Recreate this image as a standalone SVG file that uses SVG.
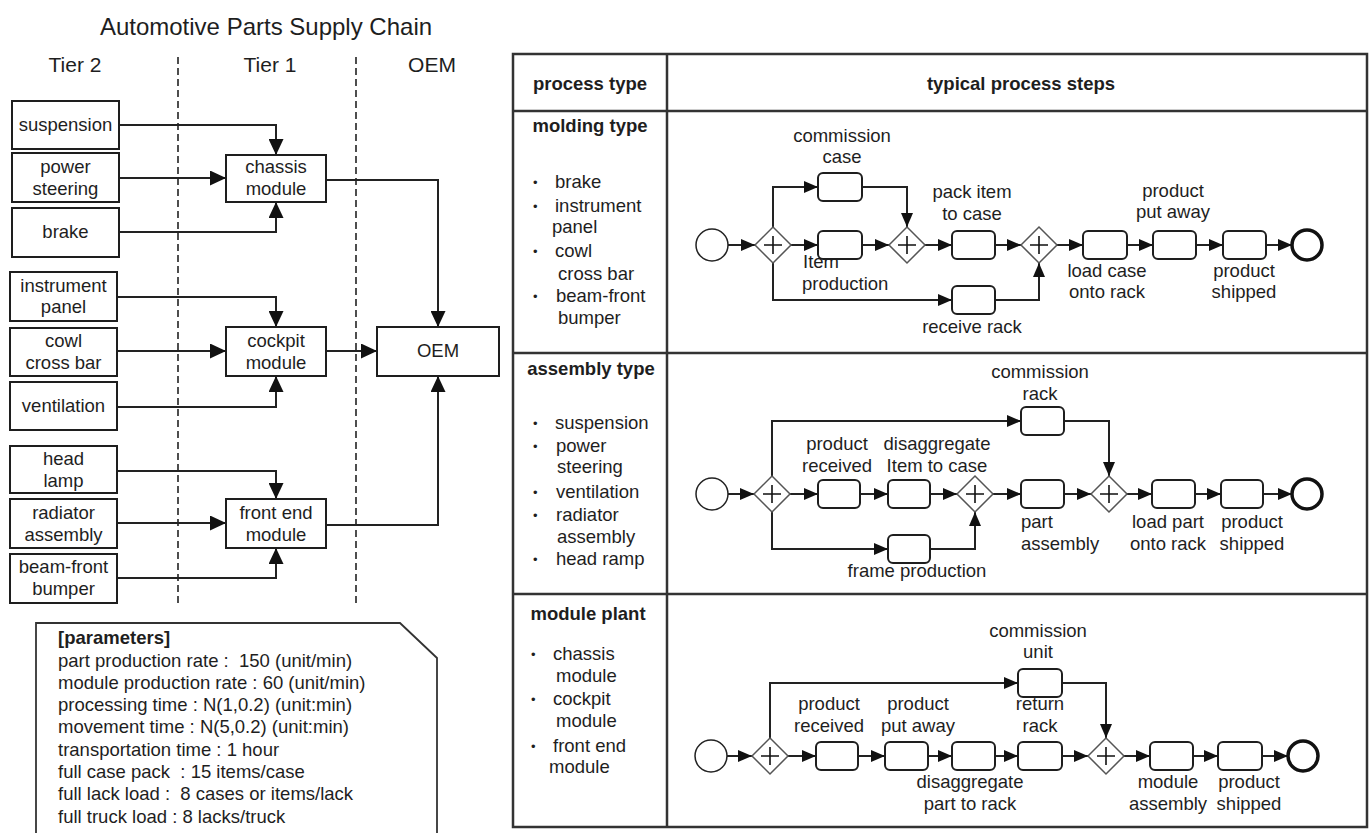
<svg xmlns="http://www.w3.org/2000/svg" width="1369" height="833" viewBox="0 0 1369 833">
<style>
text{font-family:"Liberation Sans",Arial,sans-serif;fill:#1e1e1e;font-size:18.5px}
.c{text-anchor:middle}
.b{font-weight:bold}
.pre{white-space:pre}
.box{fill:#fff;stroke:#1e1e1e;stroke-width:2}
.ln{fill:none;stroke:#222;stroke-width:2}
.lnl{fill:none;stroke:#222;stroke-width:2;marker-end:url(#al)}
.lnp{fill:none;stroke:#222;stroke-width:2;marker-end:url(#ap)}
.dash{stroke:#222;stroke-width:1.6;stroke-dasharray:7 4}
.task{fill:#fff;stroke:#1e1e1e;stroke-width:2}
.gw{fill:#fff;stroke:#555;stroke-width:1.5}
.plus{stroke:#111;stroke-width:1.6}
.st{fill:#fff;stroke:#222;stroke-width:1.5}
.en{fill:#fff;stroke:#111;stroke-width:3.5}
.tb{fill:none;stroke:#333;stroke-width:2.5}
.bul{font-size:13px}
</style>
<defs>
<marker id="al" markerUnits="userSpaceOnUse" markerWidth="16" markerHeight="15" refX="16" refY="7.5" orient="auto"><path d="M0,0 L16,7.5 L0,15 z" fill="#111"/></marker>
<marker id="ap" markerUnits="userSpaceOnUse" markerWidth="14" markerHeight="12" refX="14" refY="6" orient="auto"><path d="M0,0 L14,6 L0,12 z" fill="#111"/></marker>
<g id="gwshape"><path d="M-18,0 L0,-18 L18,0 L0,18 z" class="gw"/><path d="M-9,0 H9 M0,-9 V9" class="plus"/></g>
</defs>
<rect width="1369" height="833" fill="#fff"/>

<!-- Left: supply chain -->
<g id="title">
<text class="c" x="266" y="35" style="font-size:24px">Automotive Parts Supply Chain</text>
<text class="c" x="75" y="72" style="font-size:21px">Tier 2</text>
<text class="c" x="270" y="72" style="font-size:21px">Tier 1</text>
<text class="c" x="432" y="72" style="font-size:21px">OEM</text>
</g>
<g id="tier-dividers">
<line x1="178" y1="57" x2="178" y2="604" class="dash"/>
<line x1="356" y1="57" x2="356" y2="604" class="dash"/>
</g>

<g id="left-connectors">
<path d="M119,125 H276 V155" class="lnl"/>
<path d="M119,178 H226" class="lnl"/>
<path d="M119,232 H276 V202" class="lnl"/>
<path d="M326,180 H438 V327" class="lnl"/>
<path d="M117,297 H276 V327" class="lnl"/>
<path d="M117,351 H226" class="lnl"/>
<path d="M117,407 H276 V376" class="lnl"/>
<path d="M326,351 H377" class="lnl"/>
<path d="M117,471 H276 V499" class="lnl"/>
<path d="M117,523 H226" class="lnl"/>
<path d="M117,578 H276 V548" class="lnl"/>
<path d="M326,525 H438 V376" class="lnl"/>
</g>

<g id="n-suspension"><rect x="12" y="101" width="107" height="48" class="box"/><text class="c" x="65.5" y="131">suspension</text></g>
<g id="n-power-steering"><rect x="12" y="153" width="107" height="49" class="box"/><text class="c" x="65.5" y="173">power</text><text class="c" x="65.5" y="195">steering</text></g>
<g id="n-brake"><rect x="12" y="208" width="107" height="49" class="box"/><text class="c" x="65.5" y="238">brake</text></g>
<g id="n-instrument-panel"><rect x="10" y="272" width="107" height="49" class="box"/><text class="c" x="63.5" y="292">instrument</text><text class="c" x="63.5" y="313">panel</text></g>
<g id="n-cowl"><rect x="10" y="328" width="107" height="48" class="box"/><text class="c" x="63.5" y="347">cowl</text><text class="c" x="63.5" y="369">cross bar</text></g>
<g id="n-ventilation"><rect x="10" y="382" width="107" height="48" class="box"/><text class="c" x="63.5" y="412">ventilation</text></g>
<g id="n-head-lamp"><rect x="10" y="446" width="107" height="47" class="box"/><text class="c" x="63.5" y="465">head</text><text class="c" x="63.5" y="487">lamp</text></g>
<g id="n-radiator"><rect x="10" y="499" width="107" height="49" class="box"/><text class="c" x="63.5" y="519">radiator</text><text class="c" x="63.5" y="541">assembly</text></g>
<g id="n-beam-front"><rect x="10" y="554" width="107" height="49" class="box"/><text class="c" x="63.5" y="573">beam-front</text><text class="c" x="63.5" y="595">bumper</text></g>
<g id="n-chassis"><rect x="226" y="155" width="100" height="47" class="box"/><text class="c" x="276" y="173">chassis</text><text class="c" x="276" y="195">module</text></g>
<g id="n-cockpit"><rect x="226" y="327" width="100" height="49" class="box"/><text class="c" x="276" y="347">cockpit</text><text class="c" x="276" y="369">module</text></g>
<g id="n-front-end"><rect x="226" y="499" width="100" height="49" class="box"/><text class="c" x="276" y="519">front end</text><text class="c" x="276" y="541">module</text></g>
<g id="n-oem"><rect x="377" y="327" width="122" height="49" class="box"/><text class="c" x="438" y="357">OEM</text></g>

<g id="parameters">
<path d="M36,845 V623 H400 L437,658 V845" fill="#fff" stroke="#333" stroke-width="1.8"/>
<text x="58" y="644" class="b">[parameters]</text>
<text x="58" y="667" class="pre">part production rate :  150 (unit/min)</text>
<text x="58" y="689" class="pre">module production rate : 60 (unit/min)</text>
<text x="58" y="711" class="pre">processing time : N(1,0.2) (unit:min)</text>
<text x="58" y="733" class="pre">movement time : N(5,0.2) (unit:min)</text>
<text x="58" y="756" class="pre">transportation time : 1 hour</text>
<text x="58" y="778" class="pre">full case pack  : 15 items/case</text>
<text x="58" y="800" class="pre">full lack load :  8 cases or items/lack</text>
<text x="58" y="823" class="pre">full truck load : 8 lacks/truck</text>
</g>

<!-- Right: table -->
<g id="table">
<rect x="513" y="54" width="854" height="773" class="tb"/>
<line x1="513" y1="111" x2="1367" y2="111" class="tb"/>
<line x1="513" y1="353" x2="1367" y2="353" class="tb"/>
<line x1="513" y1="594" x2="1367" y2="594" class="tb"/>
<line x1="667" y1="54" x2="667" y2="827" class="tb"/>
<text class="c b" x="590" y="90">process type</text>
<text class="c b" x="1021" y="90">typical process steps</text>
</g>

<g id="row-molding-label">
<text class="c b" x="590" y="132">molding type</text>
<text class="bul" x="533" y="187">•</text><text x="555" y="188">brake</text>
<text class="bul" x="533" y="211">•</text><text x="555" y="212">instrument</text>
<text x="552" y="233">panel</text>
<text class="bul" x="533" y="256">•</text><text x="555" y="257">cowl</text>
<text x="558" y="280">cross bar</text>
<text class="bul" x="533" y="301">•</text><text x="556" y="302">beam-front</text>
<text x="558" y="324">bumper</text>
</g>
<g id="row-assembly-label">
<text class="c b" x="591" y="375">assembly type</text>
<text class="bul" x="533" y="428">•</text><text x="555" y="429">suspension</text>
<text class="bul" x="533" y="451">•</text><text x="556" y="452">power</text>
<text x="557" y="473">steering</text>
<text class="bul" x="533" y="497">•</text><text x="556" y="498">ventilation</text>
<text class="bul" x="533" y="520">•</text><text x="556" y="521">radiator</text>
<text x="557" y="543">assembly</text>
<text class="bul" x="533" y="564">•</text><text x="556" y="565">head ramp</text>
</g>
<g id="row-module-label">
<text class="c b" x="588" y="620">module plant</text>
<text class="bul" x="531" y="659">•</text><text x="553" y="660">chassis</text>
<text x="556" y="682">module</text>
<text class="bul" x="531" y="704">•</text><text x="553" y="705">cockpit</text>
<text x="556" y="727">module</text>
<text class="bul" x="531" y="751">•</text><text x="553" y="752">front end</text>
<text x="549" y="773">module</text>
</g>

<!-- process connectors -->
<g id="process-connectors">
<path d="M728,245 H755" class="lnp"/>
<path d="M791,245 H818" class="lnp"/>
<path d="M773,227 V187 H818" class="lnp"/>
<path d="M773,263 V300 H952" class="lnp"/>
<path d="M862,187 H907 V227" class="lnp"/>
<path d="M862,245 H889" class="lnp"/>
<path d="M925,245 H952" class="lnp"/>
<path d="M995,245 H1021" class="lnp"/>
<path d="M995,300 H1039 V263" class="lnp"/>
<path d="M1057,245 H1083" class="lnp"/>
<path d="M1127,245 H1153" class="lnp"/>
<path d="M1196,245 H1223" class="lnp"/>
<path d="M1266,245 H1292" class="lnp"/>
<path d="M728,494 H754" class="lnp"/>
<path d="M790,494 H818" class="lnp"/>
<path d="M860,494 H888" class="lnp"/>
<path d="M930,494 H957" class="lnp"/>
<path d="M772,476 V421 H1021" class="lnp"/>
<path d="M772,512 V549 H888" class="lnp"/>
<path d="M930,549 H975 V512" class="lnp"/>
<path d="M993,494 H1021" class="lnp"/>
<path d="M1064,494 H1091" class="lnp"/>
<path d="M1064,421 H1109 V476" class="lnp"/>
<path d="M1127,494 H1152" class="lnp"/>
<path d="M1195,494 H1221" class="lnp"/>
<path d="M1263,494 H1292" class="lnp"/>
<path d="M727,756 H752" class="lnp"/>
<path d="M788,756 H816" class="lnp"/>
<path d="M858,756 H885" class="lnp"/>
<path d="M928,756 H952" class="lnp"/>
<path d="M995,756 H1018" class="lnp"/>
<path d="M1062,756 H1088" class="lnp"/>
<path d="M770,738 V683 H1018" class="lnp"/>
<path d="M1062,683 H1106 V738" class="lnp"/>
<path d="M1124,756 H1150" class="lnp"/>
<path d="M1193,756 H1218" class="lnp"/>
<path d="M1262,756 H1288" class="lnp"/>
</g>

<!-- molding process nodes -->
<g id="m-start"><circle cx="712" cy="245" r="16" class="st"/></g>
<g id="m-gw1"><use href="#gwshape" x="773" y="245"/></g>
<g id="m-commission-case"><rect x="818" y="173" width="44" height="28" rx="5" class="task"/><text class="c" x="842" y="142">commission</text><text class="c" x="842" y="163">case</text></g>
<g id="m-item-production"><rect x="818" y="231" width="44" height="28" rx="5" class="task"/><text x="803" y="268">Item</text><text x="802" y="290">production</text></g>
<g id="m-gw2"><use href="#gwshape" x="907" y="245"/></g>
<g id="m-pack-item"><rect x="952" y="231" width="43" height="28" rx="5" class="task"/><text class="c" x="972" y="198">pack item</text><text class="c" x="972" y="220">to case</text></g>
<g id="m-receive-rack"><rect x="952" y="286" width="43" height="28" rx="5" class="task"/><text class="c" x="972" y="333">receive rack</text></g>
<g id="m-gw3"><use href="#gwshape" x="1039" y="245"/></g>
<g id="m-load-case"><rect x="1083" y="231" width="44" height="28" rx="5" class="task"/><text class="c" x="1107" y="277">load case</text><text class="c" x="1107" y="298">onto rack</text></g>
<g id="m-put-away"><rect x="1153" y="231" width="43" height="28" rx="5" class="task"/><text class="c" x="1173" y="197">product</text><text class="c" x="1173" y="218">put away</text></g>
<g id="m-shipped"><rect x="1223" y="231" width="43" height="28" rx="5" class="task"/><text class="c" x="1244" y="277">product</text><text class="c" x="1244" y="298">shipped</text></g>
<g id="m-end"><circle cx="1307" cy="245" r="15" class="en"/></g>

<!-- assembly process nodes -->
<g id="a-start"><circle cx="712" cy="494" r="16" class="st"/></g>
<g id="a-gw1"><use href="#gwshape" x="772" y="494"/></g>
<g id="a-product-received"><rect x="818" y="480" width="42" height="28" rx="5" class="task"/><text class="c" x="837" y="450">product</text><text class="c" x="837" y="472">received</text></g>
<g id="a-disaggregate"><rect x="888" y="480" width="42" height="28" rx="5" class="task"/><text class="c" x="937" y="450">disaggregate</text><text class="c" x="937" y="472">Item to case</text></g>
<g id="a-frame-production"><rect x="888" y="535" width="42" height="28" rx="5" class="task"/><text class="c" x="917" y="577">frame production</text></g>
<g id="a-gw2"><use href="#gwshape" x="975" y="494"/></g>
<g id="a-commission-rack"><rect x="1021" y="407" width="43" height="28" rx="5" class="task"/><text class="c" x="1040" y="378">commission</text><text class="c" x="1040" y="400">rack</text></g>
<g id="a-part-assembly"><rect x="1021" y="480" width="43" height="28" rx="5" class="task"/><text x="1021" y="528">part</text><text x="1021" y="550">assembly</text></g>
<g id="a-gw3"><use href="#gwshape" x="1109" y="494"/></g>
<g id="a-load-part"><rect x="1152" y="480" width="43" height="28" rx="5" class="task"/><text class="c" x="1168" y="528">load part</text><text class="c" x="1168" y="550">onto rack</text></g>
<g id="a-shipped"><rect x="1221" y="480" width="42" height="28" rx="5" class="task"/><text class="c" x="1252" y="528">product</text><text class="c" x="1252" y="550">shipped</text></g>
<g id="a-end"><circle cx="1307" cy="494" r="15" class="en"/></g>

<!-- module plant process nodes -->
<g id="p-start"><circle cx="711" cy="756" r="16" class="st"/></g>
<g id="p-gw1"><use href="#gwshape" x="770" y="756"/></g>
<g id="p-product-received"><rect x="816" y="742" width="42" height="28" rx="5" class="task"/><text class="c" x="829" y="710">product</text><text class="c" x="829" y="732">received</text></g>
<g id="p-put-away"><rect x="885" y="742" width="43" height="28" rx="5" class="task"/><text class="c" x="918" y="710">product</text><text class="c" x="918" y="732">put away</text></g>
<g id="p-disaggregate"><rect x="952" y="742" width="43" height="28" rx="5" class="task"/><text class="c" x="970" y="788">disaggregate</text><text class="c" x="970" y="810">part to rack</text></g>
<g id="p-commission-unit"><rect x="1018" y="669" width="44" height="28" rx="5" class="task"/><text class="c" x="1038" y="637">commission</text><text class="c" x="1038" y="658">unit</text></g>
<g id="p-return-rack"><rect x="1018" y="742" width="44" height="28" rx="5" class="task"/><text class="c" x="1040" y="710">return</text><text class="c" x="1040" y="732">rack</text></g>
<g id="p-gw2"><use href="#gwshape" x="1106" y="756"/></g>
<g id="p-module-assembly"><rect x="1150" y="742" width="43" height="28" rx="5" class="task"/><text class="c" x="1168" y="788">module</text><text class="c" x="1168" y="810">assembly</text></g>
<g id="p-shipped"><rect x="1218" y="742" width="44" height="28" rx="5" class="task"/><text class="c" x="1249" y="788">product</text><text class="c" x="1249" y="810">shipped</text></g>
<g id="p-end"><circle cx="1303" cy="756" r="15" class="en"/></g>
</svg>
